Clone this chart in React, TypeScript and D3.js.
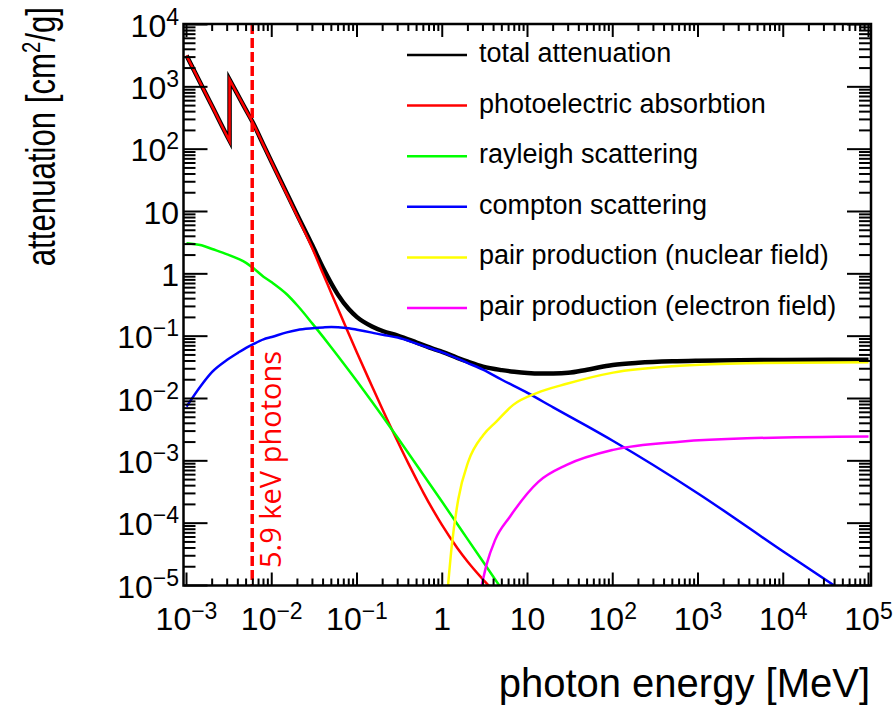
import React from "react";
import * as d3 from "d3";

// ---- data (photon energy in MeV, attenuation in cm^2/g) ----
const totalData: [number, number][] = [
  [1e-3, 3183], [1.5e-3, 1063], [2e-3, 488], [3e-3, 162], [3.2e-3, 137], [3.2e-3, 1302],
  [4e-3, 742], [5e-3, 422], [6e-3, 267], [8e-3, 117], [1e-2, 61.8], [1.5e-2, 19.6],
  [2e-2, 8.74], [3e-2, 2.84], [4e-2, 1.24], [5e-2, 0.7], [6e-2, 0.46], [8e-2, 0.272],
  [0.1, 0.202], [0.15, 0.143], [0.2, 0.121], [0.3, 0.102], [0.5, 0.079], [0.8, 0.062],
  [1, 0.056], [1.5, 0.045], [2, 0.039], [3, 0.0325], [5, 0.0285], [7, 0.0268], [10, 0.0256],
  [14, 0.0251], [20, 0.0252], [30, 0.0258], [50, 0.029], [100, 0.0345], [200, 0.0375],
  [500, 0.0396], [1000, 0.0404], [1e4, 0.0415], [1e5, 0.0418],
];
const photoData: [number, number][] = [
  [1e-3, 3180], [1.5e-3, 1060], [2e-3, 485], [3e-3, 160], [3.2e-3, 135], [3.2e-3, 1300],
  [4e-3, 740], [5e-3, 420], [6e-3, 265], [8e-3, 116], [1e-2, 61], [1.5e-2, 19.0],
  [2e-2, 8.3], [3e-2, 2.55], [4e-2, 1.0], [5e-2, 0.49], [6e-2, 0.272], [8e-2, 0.109],
  [0.1, 0.054], [0.15, 0.0157], [0.2, 6.6e-3], [0.3, 2.04e-3], [0.4, 9.1e-4], [0.5, 5.0e-4],
  [0.6, 3.1e-4], [0.8, 1.53e-4], [1, 9.2e-5], [1.5, 4.0e-5], [2, 2.38e-5], [3, 1.25e-5],
  [5, 6.0e-6],
];
const rayleighData: [number, number][] = [
  [1e-3, 3.1], [1.5e-3, 2.87], [2e-3, 2.5], [3e-3, 2.05], [4e-3, 1.75], [5e-3, 1.5],
  [6e-3, 1.25], [8e-3, 0.9], [1e-2, 0.73], [1.5e-2, 0.47], [2e-2, 0.31], [3e-2, 0.159],
  [4e-2, 0.0975], [5e-2, 0.066], [6e-2, 0.0477], [8e-2, 0.0284], [0.1, 0.0189], [0.15, 8.86e-3],
  [0.2, 5.13e-3], [0.3, 2.34e-3], [0.5, 8.6e-4], [1, 2.18e-4], [2, 5.45e-5], [3, 2.42e-5],
  [5, 8.7e-6],
];
const comptonData: [number, number][] = [
  [1e-3, 7.4e-3], [1.5e-3, 0.0165], [2e-3, 0.0267], [3e-3, 0.0417], [4e-3, 0.054],
  [5e-3, 0.065], [6e-3, 0.074], [8e-3, 0.089], [1e-2, 0.097], [1.5e-2, 0.115], [2e-2, 0.126],
  [3e-2, 0.134], [4e-2, 0.138], [5e-2, 0.14], [6e-2, 0.139], [8e-2, 0.134], [0.1, 0.127],
  [0.15, 0.114], [0.2, 0.105], [0.3, 0.095], [0.5, 0.076], [0.8, 0.061], [1, 0.055],
  [1.5, 0.044], [2, 0.037], [3, 0.029], [5, 0.020], [10, 0.0123], [20, 7.2e-3], [50, 3.6e-3],
  [100, 2.1e-3], [1000, 3.0e-4], [1e4, 3.5e-5], [1e5, 4.3e-6],
];
const pairNuclearData: [number, number][] = [
  [1.17, 1.0e-5], [1.29, 4.2e-5], [1.54, 2.4e-4], [2.02, 9.7e-4], [3.03, 2.6e-3],
  [4.34, 4.3e-3], [6.8, 7.9e-3], [12.8, 0.0122], [28.8, 0.0172], [101, 0.026],
  [614, 0.0335], [3720, 0.0369], [1e5, 0.0383],
];
const pairElectronData: [number, number][] = [
  [2.9, 1.0e-5], [3.32, 2.2e-5], [4.15, 5.3e-5], [6.22, 1.27e-4], [13.4, 4.6e-4],
  [28.8, 8.6e-4], [101, 1.5e-3], [614, 2.03e-3], [3720, 2.3e-3], [1e5, 2.45e-3],
];

const legendLabels = [
  "total attenuation",
  "photoelectric absorbtion",
  "rayleigh scattering",
  "compton scattering",
  "pair production (nuclear field)",
  "pair production (electron field)",
];
const xTickExponents = [-3, -2, -1, 0, 1, 2, 3, 4, 5];
const yTickExponents = [-5, -4, -3, -2, -1, 0, 1, 2, 3, 4];
const markerEnergy = 5.9e-3;
const markerLabel = "5.9 keV photons";

const W = 893;
const H = 709;
const frame = { left: 183.5, right: 871, top: 24, bottom: 585.5 };
const FONT = "'Liberation Sans', Arial, Helvetica, sans-serif";

const x = d3.scaleLog().domain([1e-3, 1e5]).range([186.5, 868.5]);
const y = d3.scaleLog().domain([1e-5, 1e4]).range([585.5, 24.5]);

const smoothLine = d3
  .line<[number, number]>()
  .x((d) => x(d[0]))
  .y((d) => y(d[1]))
  .curve(d3.curveMonotoneX);

// split a series at absorption edges (repeated energies) and join pieces with straight jumps
function seriesPath(data: [number, number][]) {
  const pieces: [number, number][][] = [[]];
  data.forEach((d, i) => {
    if (i > 0 && d[0] === data[i - 1][0]) pieces.push([]);
    pieces[pieces.length - 1].push(d);
  });
  return pieces
    .map((p, i) => {
      const s = smoothLine(p) || "";
      return i === 0 ? s : s.replace(/^M/, "L");
    })
    .join("");
}

const series = [
  { data: totalData, color: "#000000", width: 4.5 },
  { data: photoData, color: "#ff0000", width: 2.5 },
  { data: rayleighData, color: "#00ff00", width: 2.5 },
  { data: comptonData, color: "#0000ff", width: 2.5 },
  { data: pairNuclearData, color: "#ffff00", width: 2.5 },
  { data: pairElectronData, color: "#ff00ff", width: 2.5 },
];

function expLabel(n: number) {
  if (n === 0) return { base: "1", sup: "" };
  if (n === 1) return { base: "10", sup: "" };
  return { base: "10", sup: n < 0 ? "\u2212" + Math.abs(n) : String(n) };
}

export default function App() {
  const xMinor: number[] = [];
  for (let n = -3; n < 5; n++) for (let k = 2; k <= 9; k++) xMinor.push(k * Math.pow(10, n));
  const yMinor: number[] = [];
  for (let n = -5; n < 4; n++) for (let k = 2; k <= 9; k++) yMinor.push(k * Math.pow(10, n));
  const xMajor = xTickExponents.map((n) => Math.pow(10, n));
  const yMajor = yTickExponents.map((n) => Math.pow(10, n));

  const xMajLen = 13, xMinLen = 7, yMajLen = 24, yMinLen = 12;
  const mx = x(markerEnergy);

  return (
    <svg
      width={W}
      height={H}
      viewBox={`0 0 ${W} ${H}`}
      style={{ position: "absolute", left: 0, top: 0, background: "#fff" }}
      fontFamily={FONT}
    >
      <rect x={0} y={0} width={W} height={H} fill="#fff" />
      <defs>
        <clipPath id="plotclip">
          <rect x={frame.left} y={frame.top} width={frame.right - frame.left} height={frame.bottom - frame.top} />
        </clipPath>
      </defs>

      {/* curves */}
      <g clipPath="url(#plotclip)" fill="none" strokeLinejoin="miter" strokeMiterlimit={10}>
        {series.map((s, i) => (
          <path key={i} d={seriesPath(s.data)} stroke={s.color} strokeWidth={s.width} />
        ))}
        <line x1={mx} x2={mx} y1={frame.top} y2={frame.bottom} stroke="#ff0000" strokeWidth={3.5} strokeDasharray="10,4" />
      </g>

      <text
        transform={`translate(${mx + 29},568) rotate(-90)`}
        fill="#ff0000"
        fontFamily="'Open Sans', 'DejaVu Sans', sans-serif"
        fontSize={29}
      >
        {markerLabel}
      </text>

      {/* ticks */}
      <g stroke="#000" strokeWidth={2}>
        {xMajor.map((v, i) => (
          <g key={"xM" + i}>
            <line x1={x(v)} x2={x(v)} y1={frame.bottom} y2={frame.bottom - xMajLen} />
            <line x1={x(v)} x2={x(v)} y1={frame.top} y2={frame.top + xMajLen} />
          </g>
        ))}
        {xMinor.map((v, i) => (
          <g key={"xm" + i}>
            <line x1={x(v)} x2={x(v)} y1={frame.bottom} y2={frame.bottom - xMinLen} />
            <line x1={x(v)} x2={x(v)} y1={frame.top} y2={frame.top + xMinLen} />
          </g>
        ))}
        {yMajor.map((v, i) => (
          <g key={"yM" + i}>
            <line x1={frame.left} x2={frame.left + yMajLen} y1={y(v)} y2={y(v)} />
            <line x1={frame.right} x2={frame.right - yMajLen} y1={y(v)} y2={y(v)} />
          </g>
        ))}
        {yMinor.map((v, i) => (
          <g key={"ym" + i}>
            <line x1={frame.left} x2={frame.left + yMinLen} y1={y(v)} y2={y(v)} />
            <line x1={frame.right} x2={frame.right - yMinLen} y1={y(v)} y2={y(v)} />
          </g>
        ))}
      </g>

      {/* frame */}
      <rect
        x={frame.left}
        y={frame.top}
        width={frame.right - frame.left}
        height={frame.bottom - frame.top}
        fill="none"
        stroke="#000"
        strokeWidth={2.5}
      />

      {/* x tick labels */}
      {xTickExponents.map((n, i) => {
        const l = expLabel(n);
        return (
          <text key={"xl" + i} x={x(Math.pow(10, n))} y={630} textAnchor="middle" fontSize={32} fill="#000">
            <tspan>{l.base}</tspan>
            {l.sup && (
              <tspan dy={-11} fontSize={23}>
                {l.sup}
              </tspan>
            )}
          </text>
        );
      })}

      {/* y tick labels */}
      {yTickExponents.map((n, i) => {
        const l = expLabel(n);
        return (
          <text key={"yl" + i} x={179} y={y(Math.pow(10, n)) + 12} textAnchor="end" fontSize={32} fill="#000">
            <tspan>{l.base}</tspan>
            {l.sup && (
              <tspan dy={-12} fontSize={23}>
                {l.sup}
              </tspan>
            )}
          </text>
        );
      })}

      {/* axis titles */}
      <text x={870} y={697} textAnchor="end" fontSize={40} fill="#000">
        photon energy [MeV]
      </text>
      <text transform="translate(55,7) rotate(-90) scale(0.78,1)" textAnchor="end" fontSize={40} fill="#000">
        <tspan>attenuation [cm</tspan>
        <tspan dy={-15} fontSize={26}>2</tspan>
        <tspan dy={15}>/g]</tspan>
      </text>

      {/* legend */}
      {legendLabels.map((lab, i) => {
        const ly = 55 + i * 50.6;
        return (
          <g key={"lg" + i}>
            <line x1={407} x2={467} y1={ly} y2={ly} stroke={series[i].color} strokeWidth={2.5} />
            <text x={479} y={ly + 7} fontSize={27} fill="#000">
              {lab}
            </text>
          </g>
        );
      })}
    </svg>
  );
}
